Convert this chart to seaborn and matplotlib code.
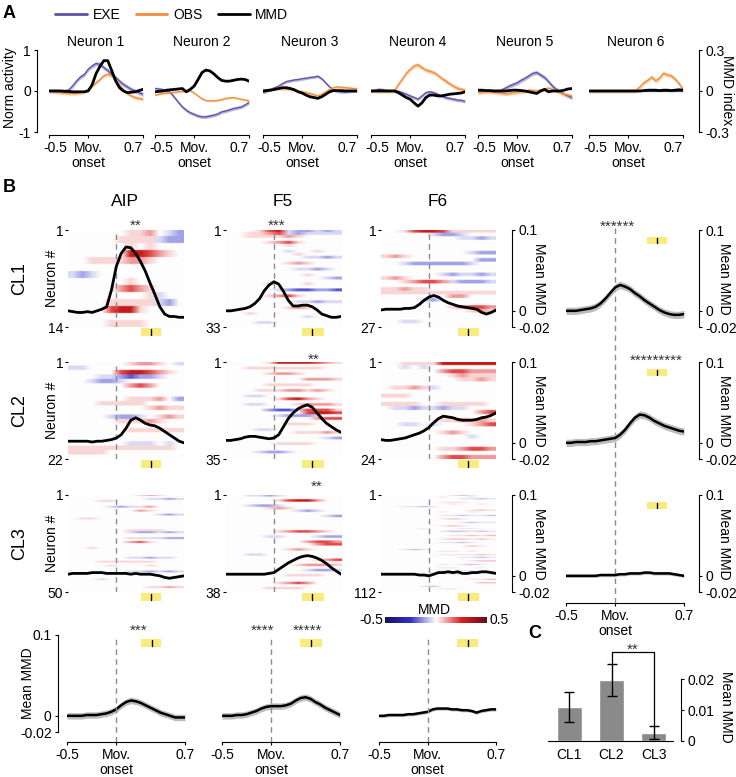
import matplotlib
matplotlib.use("Agg")
import matplotlib.pyplot as plt
import numpy as np
import seaborn as sns
from matplotlib.cm import ScalarMappable
from matplotlib.colors import LinearSegmentedColormap, Normalize
from matplotlib.lines import Line2D
from matplotlib.transforms import offset_copy

W, H = 736, 777
PT = 72 / 100  # pixels -> points at dpi 100

# time from movement onset (s), one sample every 50 ms
T = np.round(np.arange(-0.5, 0.701, 0.05), 2)

# ---------------- panel A: example neurons ----------------
NEURONS = ["Neuron 1", "Neuron 2", "Neuron 3", "Neuron 4", "Neuron 5", "Neuron 6"]
A_EXE = [
    [0, 0, 0, 0, 0, 0.02, 0.12, 0.24, 0.34, 0.40, 0.53, 0.61, 0.67, 0.65, 0.57, 0.50, 0.40, 0.33, 0.24, 0.16, 0.10, 0.04, 0, -0.04, -0.08],
    [0.06, 0.05, 0.03, 0, -0.04, -0.16, -0.28, -0.39, -0.47, -0.53, -0.57, -0.61, -0.63, -0.63, -0.61, -0.59, -0.56, -0.51, -0.49, -0.46, -0.43, -0.41, -0.39, -0.34, -0.28],
    [-0.04, 0, 0.04, 0.08, 0.12, 0.18, 0.23, 0.25, 0.27, 0.28, 0.30, 0.31, 0.33, 0.34, 0.36, 0.30, 0.20, 0.10, 0.02, -0.01, -0.02, -0.02, -0.01, 0, 0],
    [0, 0.02, 0.04, 0.03, 0.01, 0, 0, -0.01, -0.04, -0.08, -0.12, -0.16, -0.20, -0.12, -0.04, -0.02, -0.04, -0.08, -0.12, -0.16, -0.18, -0.20, -0.22, -0.23, -0.25],
    [0, 0, 0, 0, 0, 0, 0.02, 0.07, 0.12, 0.16, 0.20, 0.26, 0.31, 0.37, 0.43, 0.45, 0.39, 0.33, 0.23, 0.12, 0.04, -0.02, -0.08, -0.12, -0.16],
    [0, 0, 0, 0, 0, 0, 0, 0, 0, 0, 0, 0, 0, 0, 0, 0, 0, 0, 0, 0, 0, 0, 0, 0, 0],
]
A_OBS = [
    [0, -0.01, -0.03, -0.04, -0.05, -0.06, -0.06, -0.06, -0.04, -0.02, 0.04, 0.12, 0.20, 0.28, 0.37, 0.41, 0.37, 0.26, 0.15, 0.04, -0.06, -0.12, -0.16, -0.18, -0.20],
    [-0.10, -0.08, -0.06, -0.05, -0.04, -0.03, -0.02, -0.01, 0, 0.01, -0.05, -0.12, -0.19, -0.23, -0.24, -0.24, -0.23, -0.21, -0.18, -0.17, -0.16, -0.18, -0.20, -0.22, -0.24],
    [0.02, 0.03, 0.05, 0.06, 0.06, 0.06, 0.05, 0.04, 0.02, 0, -0.02, -0.04, -0.06, -0.09, -0.12, -0.08, -0.02, 0.04, 0.08, 0.10, 0.09, 0.08, 0.07, 0.06, 0.06],
    [0, 0, 0, 0, 0, 0, 0.01, 0.16, 0.29, 0.43, 0.53, 0.61, 0.64, 0.57, 0.51, 0.48, 0.45, 0.39, 0.31, 0.25, 0.18, 0.12, 0.07, 0.04, 0.02],
    [-0.04, -0.03, -0.02, -0.02, -0.03, -0.04, -0.05, -0.07, -0.06, -0.04, -0.03, -0.02, -0.01, 0.02, 0.01, 0, 0.02, 0.04, 0.07, 0.04, 0, -0.04, -0.08, -0.10, -0.12],
    [0, 0, 0, 0, 0, 0, 0, 0, 0, 0, 0, 0, 0.01, 0.10, 0.20, 0.26, 0.34, 0.25, 0.31, 0.43, 0.39, 0.37, 0.29, 0.18, 0.04],
]
A_MMD = [  # MMD index (right axis)
    [0, 0, 0, 0, -0.003, -0.003, -0.006, -0.006, -0.006, -0.006, 0, 0.045, 0.126, 0.18, 0.222, 0.222, 0.15, 0.075, 0.024, 0, -0.012, -0.009, -0.006, 0.003, 0.012],
    [-0.006, -0.003, 0, 0.006, 0.009, 0.012, 0.015, 0.018, -0.006, 0.012, 0.036, 0.084, 0.135, 0.153, 0.147, 0.126, 0.099, 0.078, 0.072, 0.072, 0.078, 0.084, 0.087, 0.084, 0.072],
    [0, 0.003, 0.006, 0.012, 0.018, 0.024, 0.024, 0.018, 0.009, -0.006, -0.015, -0.03, -0.042, -0.048, -0.054, -0.042, -0.024, -0.006, 0.003, 0.003, 0.003, 0, 0, 0, 0],
    [0, 0, 0, 0, 0, 0, 0, -0.012, -0.03, -0.048, -0.06, -0.087, -0.111, -0.087, -0.048, -0.03, -0.03, -0.036, -0.036, -0.03, -0.024, -0.021, -0.018, -0.015, -0.006],
    [0.006, 0.006, 0.003, 0.003, 0, 0, 0, 0, 0.003, 0.006, 0.006, 0.003, 0, -0.006, -0.012, -0.018, 0, 0.012, -0.006, 0, 0, 0, 0.006, 0.015, 0.018],
    [0, 0, 0, 0, 0, 0, 0, 0, 0, 0, 0, 0, 0, 0, 0.003, 0.006, 0.006, 0.006, 0.003, 0.006, 0.006, 0.003, 0.006, 0.009, 0.006],
]
EXE_SEM = [0.05, 0.04, 0.035, 0.04, 0.05, 0.02]
OBS_SEM = [0.04, 0.025, 0.035, 0.05, 0.045, 0.05]

# ---------------- panel B: per-area cluster averages ----------------
AREAS = ["AIP", "F5", "F6"]
CLUSTERS = ["CL1", "CL2", "CL3"]
N_NEURONS = {"AIP": [14, 22, 50], "F5": [33, 35, 38], "F6": [27, 24, 112]}

MEAN_AIP = {
    "CL1": [0, -0.001, -0.002, -0.002, -0.001, -0.002, 0, 0.002, 0.005, 0.026, 0.055, 0.071, 0.079, 0.078, 0.071, 0.061, 0.049, 0.034, 0.02, 0.005, -0.004, -0.007, -0.007, -0.008, -0.008],
    "CL2": [0.002, 0.002, 0.002, 0.002, 0.002, 0.001, 0.002, 0.002, 0.003, 0.004, 0.006, 0.01, 0.018, 0.028, 0.031, 0.028, 0.024, 0.022, 0.021, 0.018, 0.014, 0.01, 0.006, 0.002, 0],
    "CL3": [0.002, 0.003, 0.003, 0.003, 0.003, 0.004, 0.004, 0.004, 0.003, 0.003, 0.003, 0.003, 0.003, 0.002, 0.003, 0.002, 0.002, 0.002, 0.001, 0, -0.002, -0.003, -0.002, -0.001, 0],
}
MEAN_F5 = {
    "CL1": [0, 0, 0.001, 0.002, 0.003, 0.005, 0.009, 0.015, 0.025, 0.032, 0.036, 0.033, 0.024, 0.013, 0.006, 0.006, 0.007, 0.007, 0.005, 0.001, -0.004, -0.006, -0.008, -0.008, -0.007],
    "CL2": [0.003, 0.003, 0.004, 0.005, 0.007, 0.008, 0.008, 0.007, 0.006, 0.005, 0.006, 0.01, 0.02, 0.03, 0.037, 0.042, 0.045, 0.047, 0.044, 0.037, 0.03, 0.024, 0.02, 0.016, 0.013],
    "CL3": [0.002, 0.002, 0.002, 0.002, 0.002, 0.002, 0.002, 0.002, 0.002, 0.003, 0.004, 0.008, 0.012, 0.016, 0.019, 0.022, 0.024, 0.025, 0.024, 0.022, 0.019, 0.015, 0.01, 0.006, 0.002],
}
MEAN_F6 = {
    "CL1": [0.001, 0.002, 0.002, 0.002, 0.002, 0.003, 0.003, 0.004, 0.008, 0.013, 0.017, 0.019, 0.017, 0.013, 0.01, 0.008, 0.006, 0.005, 0.004, 0.003, 0.002, -0.002, -0.004, -0.002, 0.001],
    "CL2": [0.004, 0.003, 0.003, 0.004, 0.005, 0.006, 0.008, 0.01, 0.012, 0.015, 0.019, 0.025, 0.03, 0.033, 0.032, 0.031, 0.029, 0.028, 0.028, 0.028, 0.029, 0.031, 0.032, 0.034, 0.037],
    "CL3": [0.002, 0.002, 0.002, 0.002, 0.002, 0.002, 0.002, 0.002, 0.001, 0.001, 0, 0.002, 0.004, 0.004, 0.005, 0.004, 0.005, 0.003, 0.003, 0.004, 0.004, 0.005, 0.005, 0.004, 0.003],
}
# right column: cluster mean over all areas
MEAN_ALL_AREAS = {
    "CL1": [0, 0, 0, 0.001, 0.002, 0.003, 0.005, 0.009, 0.015, 0.022, 0.029, 0.032, 0.03, 0.027, 0.022, 0.018, 0.013, 0.009, 0.005, 0.001, -0.002, -0.004, -0.005, -0.005, -0.004],
    "CL2": [0, 0, 0.001, 0.001, 0.001, 0.002, 0.002, 0.003, 0.004, 0.005, 0.006, 0.01, 0.016, 0.024, 0.031, 0.035, 0.034, 0.031, 0.027, 0.024, 0.021, 0.019, 0.017, 0.015, 0.014],
    "CL3": [0, 0, 0, 0, 0, 0, 0, 0.001, 0.001, 0.001, 0.001, 0.002, 0.002, 0.003, 0.003, 0.003, 0.004, 0.004, 0.003, 0.003, 0.003, 0.003, 0.002, 0.001, 0],
}
SEM_ALL_AREAS = {"CL1": 0.0045, "CL2": 0.0045, "CL3": 0.002}
# bottom row: area mean over all clusters
MEAN_ALL_CLUSTERS = {
    "AIP": [0, 0, 0, 0, 0.001, 0.001, 0.001, 0.002, 0.003, 0.005, 0.008, 0.013, 0.017, 0.019, 0.018, 0.016, 0.013, 0.01, 0.007, 0.004, 0.002, 0, -0.002, -0.002, -0.002],
    "F5": [0, 0, 0, 0.001, 0.001, 0.002, 0.004, 0.006, 0.009, 0.011, 0.012, 0.012, 0.012, 0.013, 0.015, 0.019, 0.022, 0.023, 0.021, 0.017, 0.014, 0.01, 0.007, 0.004, 0.001],
    "F6": [0, 0, 0.001, 0.001, 0.001, 0.001, 0.002, 0.002, 0.003, 0.004, 0.005, 0.008, 0.009, 0.009, 0.009, 0.008, 0.008, 0.007, 0.007, 0.006, 0.004, 0.006, 0.007, 0.008, 0.008],
}
SEM_ALL_CLUSTERS = {"AIP": 0.004, "F5": 0.004, "F6": 0.002}

# grasp window (start, median, end) in s
GRASP = {"AIP": (0.25, 0.36, 0.46), "F5": (0.29, 0.40, 0.52),
         "F6": (0.30, 0.41, 0.52), "all": (0.32, 0.43, 0.53)}

# single-neuron MMD heatmaps: 12 bins of 100 ms from -0.5 to 0.7 s
# B/b/- blue ... . white ... +/r/R/D red ; rows not listed are blank
LEVEL = {"B": -0.2, "b": -0.11, "-": -0.045, ".": 0.0, "+": 0.045, "r": 0.11, "R": 0.2, "D": 0.3}
HEAT_AIP_CL1 = {
    1: "......++r.-b", 2: ".....++++-bb", 3: "......+.+...", 4: "......DDRr+.",
    5: "..++++rr+...", 7: "-b-.........", 8: "......+.....", 9: ".....rRr+...",
    10: "........+-..", 11: "....+++++-b.", 12: "....RDD+....", 14: "....++++....",
}
HEAT_AIP_CL2 = {
    1: "......+rr+.-", 2: "--..........", 3: ".....RDDRr+.", 4: "...--bBbb-..",
    5: "..-bb-......", 6: "......rRr...", 9: "......+++r.b", 10: "...+++++....",
    11: "........+r++", 13: "....-bb-.+r+", 14: ".....+++r+..", 16: "......++++++",
    19: "......---.-.", 20: "+++++++++++.", 21: "++++........",
}
HEAT_AIP_CL3 = {
    1: ".......+r+..", 3: "........--b-", 4: "...++.......", 7: "....-b-+r...",
    9: ".......r+...", 11: ".........-b-", 13: ".++.........", 19: "......++++..",
    20: "......-bb-b-", 23: "......++--bb", 25: "......rR+...", 28: "..+.........",
    33: "......--b--.", 35: "...++++++...", 37: "....+...+...", 40: "......--b-b-",
    44: "...-........", 48: "........++r+",
}
HEAT_F5_CL1 = {
    1: "...+RD-bb-b-", 2: "..++rR-b----", 3: "..++++r+....", 5: "....+rR+....",
    6: "......+.....", 8: "......-..+..", 9: ".......+....", 10: "........--b-",
    12: "......+r+...", 14: ".......--b-.", 16: "........+...", 17: "..........-b",
    19: "....+...+...", 21: ".....-bBBbbB", 23: "....+rR+....", 25: ".......--b--",
    27: "......+r+...", 29: "..+.........", 30: "........-...", 32: "...--.......",
}
HEAT_F5_CL2 = {
    1: "....+DDDDRr+", 3: "..++++++++..", 5: "....+rr+....", 7: "........rrr+",
    9: "....+++++...", 11: "...+++rr+r+.", 13: "..--........", 14: ".....+RDr+..",
    16: "..--...+rrr+", 18: "....bBB-RRR+", 19: "........RDDR", 20: ".....-bbb-..",
    21: ".........rRR", 23: "......+++...", 25: "...--.......", 26: ".......+++r+",
    28: "..........-b", 30: ".....++++...", 33: "...-bb-.....",
}
HEAT_F5_CL3 = {
    1: "..--b-......", 3: ".....+RDDr..", 5: "..-bb-......", 6: "....+r+.....",
    7: ".......-b-..", 9: "..........-b", 15: ".....+rRRr+.", 17: "....--...-bb",
    19: "........rRRr", 20: ".........rRR", 22: "......+r+...", 24: "..--........",
    26: ".........+rR", 28: ".......+rrr+", 30: "........-bb-", 32: "......++++..",
    35: ".....+rRr...", 37: "....++++....",
}
HEAT_F6_CL1 = {
    1: "..+RDDR+++++", 2: ".....-bb-...", 3: "........--b-", 7: ".........-bb",
    8: "+r+.........", 9: "..........bb", 10: "..-bbbbbb-..", 13: "......-b--b-",
    14: "+r+.........", 15: "..+rRRr-bbb-", 17: "++r++.......", 18: "++++++++++++",
    19: ".......rr...", 20: "....-b......", 22: ".......+rRRr", 23: ".........+r+",
    26: "..--........",
}
HEAT_F6_CL2 = {
    1: "..++++DDDDDD", 2: "..-.-.......", 3: "......rRRrrr", 4: ".......+r+++",
    5: "........++r+", 7: ".++r+-......", 9: "+++.........", 11: "++++..+++++.",
    12: ".--b--b--...", 13: "..........rR", 15: "......++r+r+", 16: "..--.-...+rR",
    18: "......+r+...", 19: ".........-..", 22: "......++rRRr", 24: "......rRRrrr",
}
HEAT_F6_CL3 = {
    2: ".......+r+..", 4: "......-..-..", 6: "........--b-", 10: "......+++...",
    12: ".......+..+.", 15: "..--b-......", 19: ".........+r+", 21: "......+..+..",
    25: "......--b--b", 29: "......+r+...", 33: "........-b--", 37: "......+r+...",
    40: "....+...++..", 43: "......-bb-b-", 48: ".......++r+r", 52: "......+rr+r+",
    56: "......--b-..", 60: ".........r+.", 64: "..-b-.......", 66: "......++.+..",
    70: "......++++r+", 73: "........--b-", 77: ".........+rr", 81: "......-.-b-.",
    85: "......++..+.", 88: "......-.--..", 92: ".......--...", 95: "....+.......",
    98: ".........++r", 102: "..........rr", 106: "....-b......", 109: "......++....",
}

# significance stars: (area, cluster row, time, text, lift in px above the axes)
STARS = [
    ("AIP", 0, 0.20, "**", 4), ("F5", 0, 0.03, "***", 4), ("all", 0, 0.02, "******", 3),
    ("F5", 1, 0.41, "**", 2), ("all", 1, 0.42, "*********", 1), ("F5", 2, 0.45, "**", 8),
]
BOTTOM_STARS = [("AIP", 0.23, "***"), ("F5", -0.09, "****"), ("F5", 0.37, "*****")]

# ---------------- panel C ----------------
C_CLUSTERS = ["CL1", "CL2", "CL3"]
C_MEAN = [0.011, 0.0197, 0.0027]
C_ERR = [0.0047, 0.0051, 0.0021]

# ---------------- style ----------------
sns.set_theme(style="ticks", rc={
    "axes.edgecolor": "black", "axes.linewidth": 0.8,
    "xtick.color": "black", "ytick.color": "black",
    "text.color": "black", "axes.labelcolor": "black",
    "xtick.labelsize": 10, "ytick.labelsize": 10,
    "xtick.major.size": 2.5, "ytick.major.size": 2.5,
    "xtick.major.width": 0.8, "ytick.major.width": 0.8,
    "xtick.major.pad": 2, "ytick.major.pad": 2,
})
plt.rcParams["font.family"] = ["Liberation Sans", "DejaVu Sans"]

EXE_C, EXE_SHADE = "#5b52a3", "#aaa5d8"
OBS_C, OBS_SHADE = "#f28c38", "#f8c493"
YELLOW = "#f9ec7c"
DASH = dict(color="#8c8c8c", ls=(0, (4, 3)), lw=1)
CMAP = LinearSegmentedColormap.from_list(
    "mmd", ["#14145a", "#2f2fc8", "#ffffff", "#dc1e1e", "#641010"])

fig = plt.figure(figsize=(W / 100, H / 100), dpi=100)


def px_axes(x0, y0, x1, y1):
    return fig.add_axes([x0 / W, 1 - y1 / H, (x1 - x0) / W, (y1 - y0) / H])


def px_text(x, y, s, **kw):
    return fig.text(x / W, 1 - y / H, s, **kw)


def hide(ax, keep=()):
    for side, sp in ax.spines.items():
        sp.set_visible(side in keep)


def time_axis(ax, offset_px, edge_align=False):
    ax.spines["bottom"].set_visible(True)
    ax.spines["bottom"].set_position(("outward", offset_px * PT))
    ax.spines["bottom"].set_bounds(-0.5, 0.7)
    ax.set_xticks([-0.5, 0, 0.7])
    if not edge_align:
        ax.set_xticklabels(["-0.5", "Mov.\nonset", "0.7"], linespacing=1.1)
        return
    # narrow panels: the end labels are pulled inwards so neighbours don't collide
    ax.set_xticklabels(["", "Mov.\nonset", "0.7"], linespacing=1.1)
    ax.get_xticklabels()[2].set_horizontalalignment("right")
    drop = offset_px * PT + 2.5 + 2  # spine offset + tick length + pad (pt)
    trans = offset_copy(ax.get_xaxis_transform(), fig=fig, x=-6 * PT, y=-drop, units="points")
    ax.text(-0.5, 0, "-0.5", transform=trans, ha="left", va="top", fontsize=10)


def mmd_axis(ax, offset_px):
    hide(ax, ("right",))
    ax.yaxis.set_ticks_position("right")
    ax.spines["right"].set_position(("outward", offset_px * PT))
    ax.spines["right"].set_bounds(-0.02, 0.1)
    ax.set_yticks([-0.02, 0, 0.1])
    ax.set_yticklabels(["-0.02", "0", "0.1"])


def heat_matrix(n, rows):
    m = np.zeros((n, 12))
    for r, s in rows.items():
        m[r - 1] = [LEVEL[c] for c in s.ljust(12, ".")[:12]]
    return m


def grasp_bar(ax, key, ymin, ymax):
    g0, gm, g1 = GRASP[key]
    ax.axvspan(g0, g1, ymin=ymin, ymax=ymax, color=YELLOW, lw=0, clip_on=False)
    ax.axvline(gm, ymin=ymin + 0.01, ymax=ymax - 0.01, color="black", lw=1, clip_on=False)


def mean_trace(ax, values, sem):
    v = np.array(values)
    ax.fill_between(T, v - sem, v + sem, color="#bdbdbd", lw=0)
    sns.lineplot(x=T, y=v, color="black", lw=1.8, ax=ax)


# ---------------- panel A ----------------
A_LEFT = [49, 155, 263, 371, 478, 589]
for i, name in enumerate(NEURONS):
    x0 = A_LEFT[i]
    ax = px_axes(x0, 50, x0 + 94, 132)
    ax.patch.set_visible(False)
    for vals, sem, col, shade in ((A_EXE[i], EXE_SEM[i], EXE_C, EXE_SHADE),
                                  (A_OBS[i], OBS_SEM[i], OBS_C, OBS_SHADE)):
        v = np.array(vals)
        ax.fill_between(T, v - sem, v + sem, color=shade, lw=0, alpha=0.85)
        sns.lineplot(x=T, y=v, color=col, lw=0.9, ax=ax)
    ax.set_xlim(-0.5, 0.7)
    ax.set_ylim(-1, 1)
    hide(ax, ("bottom", "left") if i == 0 else ("bottom",))
    time_axis(ax, 3, edge_align=True)
    if i == 0:
        ax.spines["left"].set_position(("outward", 12 * PT))
        ax.spines["left"].set_bounds(-1, 1)
        ax.set_yticks([-1, 0, 1])
        ax.set_yticklabels(["-1", "0", "1"])
    else:
        ax.set_yticks([])
    ax.set_title(name, fontsize=10, pad=3)

    ax2 = ax.twinx()
    sns.lineplot(x=T, y=A_MMD[i], color="black", lw=2, ax=ax2)
    ax2.set_ylim(-0.3, 0.3)
    if i == len(NEURONS) - 1:
        hide(ax2, ("right",))
        ax2.spines["right"].set_position(("outward", 16 * PT))
        ax2.spines["right"].set_bounds(-0.3, 0.3)
        ax2.set_yticks([-0.3, 0, 0.3])
        ax2.set_yticklabels(["-0.3", "0", "0.3"])
    else:
        hide(ax2)
        ax2.set_yticks([])

px_text(10, 88, "Norm activity", rotation=90, ha="center", va="center", fontsize=10)
px_text(727, 90, "MMD index", rotation=270, ha="center", va="center", fontsize=10)
fig.legend(
    [Line2D([], [], color=c, lw=2) for c in (EXE_C, OBS_C, "black")],
    ["EXE", "OBS", "MMD"], loc="center left", bbox_to_anchor=(55 / W, 1 - 15 / H),
    ncol=3, frameon=False, fontsize=10, handlelength=2.3, handletextpad=0.4,
    columnspacing=1.1, borderaxespad=0, borderpad=0,
)

# ---------------- panel B ----------------
B_COL_X = {"AIP": (68, 184), "F5": (226, 341), "F6": (381, 496), "all": (566, 684)}
B_ROW_Y = [(230, 327), (362, 459), (495, 592)]
BOTTOM_X = {"AIP": (67, 185), "F5": (222, 340), "F6": (379, 496)}
HEAT = {"AIP": [HEAT_AIP_CL1, HEAT_AIP_CL2, HEAT_AIP_CL3],
        "F5": [HEAT_F5_CL1, HEAT_F5_CL2, HEAT_F5_CL3],
        "F6": [HEAT_F6_CL1, HEAT_F6_CL2, HEAT_F6_CL3]}
MEAN = {"AIP": MEAN_AIP, "F5": MEAN_F5, "F6": MEAN_F6}
star_axes = {}

for area in AREAS:
    x0, x1 = B_COL_X[area]
    for r, cl in enumerate(CLUSTERS):
        y0, y1 = B_ROW_Y[r]
        n = N_NEURONS[area][r]
        ax = px_axes(x0, y0, x1, y1)
        m = heat_matrix(n, HEAT[area][r])
        ax.imshow(np.repeat(m, max(1, 480 // n), axis=0), cmap=CMAP, vmin=-0.5, vmax=0.5,
                  aspect="auto", interpolation="bilinear", extent=(-0.5, 0.7, n, 0))
        ax.axvline(0, **DASH)
        hide(ax)
        ax.set_xlim(-0.5, 0.7)
        ax.set_xticks([])
        ax.set_yticks([0, n])
        ax.set_yticklabels(["1", str(n)])
        ax.tick_params(axis="y", length=2.5, pad=1)
        grasp_bar(ax, area, -0.095, -0.01)

        ax2 = ax.twinx()
        sns.lineplot(x=T, y=MEAN[area][cl], color="black", lw=2, ax=ax2)
        ax2.set_ylim(-0.02, 0.1)
        if area == "F6":
            mmd_axis(ax2, 16)
        else:
            hide(ax2)
            ax2.set_yticks([])
        star_axes[(area, r)] = ax

# right column: all areas pooled
col_ax = px_axes(566, 223, 684, 603)
col_ax.patch.set_visible(False)
hide(col_ax)
col_ax.set_xlim(-0.5, 0.7)
col_ax.set_yticks([])
col_ax.axvline(0, **DASH)
time_axis(col_ax, 0)
for r, cl in enumerate(CLUSTERS):
    y0, y1 = B_ROW_Y[r]
    ax = px_axes(566, y0, 684, y1)
    ax.patch.set_visible(False)
    mean_trace(ax, MEAN_ALL_AREAS[cl], SEM_ALL_AREAS[cl])
    ax.set_xlim(-0.5, 0.7)
    ax.set_ylim(-0.02, 0.1)
    ax.set_xticks([])
    mmd_axis(ax, 15)
    grasp_bar(ax, "all", 0.855, 0.93)
    star_axes[("all", r)] = ax

for area, r, t, txt, lift in STARS:
    a = star_axes[(area, r)]
    a.text(t, 1 + lift / 97, txt, transform=a.get_xaxis_transform(),
           ha="center", va="center", fontsize=11, color="#333333")

# bottom row: all clusters pooled per area
bottom_axes = {}
for area in AREAS:
    x0, x1 = BOTTOM_X[area]
    ax = px_axes(x0, 635, x1, 732)
    ax.patch.set_visible(False)
    mean_trace(ax, MEAN_ALL_CLUSTERS[area], SEM_ALL_CLUSTERS[area])
    ax.set_xlim(-0.5, 0.7)
    ax.set_ylim(-0.02, 0.1)
    ax.axvline(0, ymin=-0.1, ymax=1.0, clip_on=False, **DASH)
    hide(ax, ("left",) if area == "AIP" else ())
    time_axis(ax, 10)
    if area == "AIP":
        ax.spines["left"].set_position(("outward", 9 * PT))
        ax.spines["left"].set_bounds(-0.02, 0.1)
        ax.set_yticks([-0.02, 0, 0.1])
        ax.set_yticklabels(["-0.02", "0", "0.1"])
    else:
        ax.set_yticks([])
    grasp_bar(ax, area, 0.876, 0.96)
    bottom_axes[area] = ax

for area, t, txt in BOTTOM_STARS:
    a = bottom_axes[area]
    a.text(t, 1 + 4 / 97, txt, transform=a.get_xaxis_transform(),
           ha="center", va="center", fontsize=11, color="#333333")

# labels for panel B
for name, xc in (("AIP", 125), ("F5", 283), ("F6", 438)):
    px_text(xc, 202, name, ha="center", va="center", fontsize=12.5)
for r, cl in enumerate(CLUSTERS):
    yc = (B_ROW_Y[r][0] + B_ROW_Y[r][1]) / 2
    px_text(20, yc, cl, rotation=90, ha="center", va="center", fontsize=13)
    px_text(52, yc, "Neuron #", rotation=90, ha="center", va="center", fontsize=10)
    px_text(539, yc, "Mean MMD", rotation=270, ha="center", va="center", fontsize=10)
    px_text(724, yc, "Mean MMD", rotation=270, ha="center", va="center", fontsize=10)
px_text(28, 683, "Mean MMD", rotation=90, ha="center", va="center", fontsize=10)

# colour bar
cax = px_axes(385, 617, 487, 623)
cb = fig.colorbar(ScalarMappable(norm=Normalize(-0.5, 0.5), cmap=CMAP), cax=cax,
                  orientation="horizontal")
cb.set_ticks([])
cb.outline.set_visible(False)
px_text(434, 610, "MMD", ha="center", va="center", fontsize=10)
px_text(383, 620, "-0.5", ha="right", va="center", fontsize=10)
px_text(489, 620, "0.5", ha="left", va="center", fontsize=10)

# ---------------- panel C ----------------
ax_c = px_axes(548, 650, 673, 741)
sns.barplot(x=C_CLUSTERS, y=C_MEAN, color="#8a8a8a", saturation=1, width=0.59,
            errorbar=None, ax=ax_c)
ax_c.errorbar(np.arange(len(C_MEAN)), C_MEAN, yerr=C_ERR, fmt="none",
              ecolor="black", elinewidth=1, capsize=3.5, capthick=1)
top2 = C_MEAN[1] + C_ERR[1]
top3 = C_MEAN[2] + C_ERR[2]
bracket = top2 + 0.004
ax_c.plot([1, 1, 2, 2], [top2, bracket, bracket, top3], color="black", lw=0.9, clip_on=False)
ax_c.text(1.5, bracket + 0.0006, "**", ha="center", va="center", fontsize=11, color="#333333")
ax_c.set_xlim(-0.5, 2.45)
ax_c.set_ylim(0, 0.0294)
hide(ax_c, ("bottom", "right"))
ax_c.yaxis.set_ticks_position("right")
ax_c.spines["right"].set_position(("outward", 8 * PT))
ax_c.spines["right"].set_bounds(0, 0.02)
ax_c.set_yticks([0, 0.01, 0.02])
ax_c.set_yticklabels(["0", "0.01", "0.02"])
ax_c.tick_params(axis="x", length=0, pad=5)
ax_c.set_xlabel("")
ax_c.set_ylabel("")
px_text(726, 707, "Mean MMD", rotation=270, ha="center", va="center", fontsize=10)

# panel letters
px_text(3, 14, "A", fontsize=13, fontweight="bold", va="center")
px_text(3, 187, "B", fontsize=13, fontweight="bold", va="center")
px_text(528, 633, "C", fontsize=13, fontweight="bold", va="center")

fig.savefig("out.png", dpi=100)
